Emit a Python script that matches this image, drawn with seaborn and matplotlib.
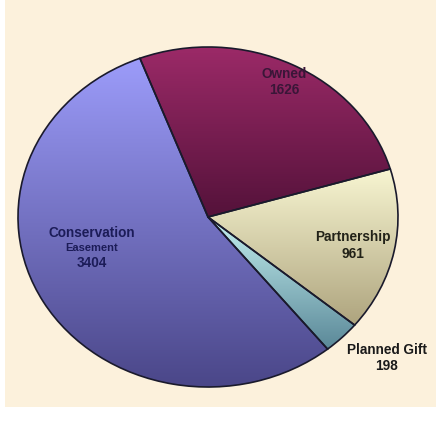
import matplotlib
matplotlib.use("Agg")
import matplotlib.pyplot as plt
import numpy as np
import seaborn as sns

# data
categories = ["Owned", "Partnership", "Planned Gift", "Conservation Easement"]
counts = [1626, 961, 198, 3404]
label_lines = [["Owned"], ["Partnership"], ["Planned Gift"], ["Conservation", "Easement"]]

# style
top_colors = ["#9c2a68", "#f8f6d2", "#c4f0f0", "#9c9cfa"]
bottom_colors = ["#54123a", "#aea47e", "#5a8898", "#4a4688"]
text_colors = ["#3a1638", "#222218", "#1a1a1a", "#1c1c58"]
# label anchor (x, y) in the unit ellipse of the pie axes
label_xy = [(0.40, 0.84), (0.765, -0.12), (0.94, -0.78), (-0.61, -0.18)]

sns.set_theme(style="white")
plt.rcParams["font.family"] = ["Liberation Sans", "DejaVu Sans"]

fig = plt.figure(figsize=(4.36, 4.21), dpi=100, facecolor="white")
bg = fig.add_axes([5 / 436, 14 / 421, 431 / 436, 407 / 421])
bg.set_facecolor("#fcf1dc")
bg.set_xticks([])
bg.set_yticks([])
for s in bg.spines.values():
    s.set_visible(False)

ax = fig.add_axes([18 / 436, 34 / 421, 380 / 436, 340 / 421])
wedges, _ = ax.pie(counts, startangle=111, counterclock=False, radius=1.0,
                   wedgeprops=dict(edgecolor="#1a1a2c", linewidth=1.2))
ax.set_aspect("auto")
ax.set_xlim(-1, 1)
ax.set_ylim(-1, 1)
ax.axis("off")

# vertical gradient fill clipped to each wedge
for w, c0, c1 in zip(wedges, top_colors, bottom_colors):
    verts = w.get_path().vertices
    ymin, ymax = verts[:, 1].min(), verts[:, 1].max()
    cmap = sns.blend_palette([c1, c0], as_cmap=True)
    grad = np.linspace(0, 1, 256).reshape(-1, 1)
    im = ax.imshow(grad, cmap=cmap, origin="lower", aspect="auto",
                   extent=(-1, 1, ymin, ymax), zorder=1)
    im.set_clip_path(w)
    w.set_facecolor("none")
    w.set_zorder(2)

for lines, n, (x, y), col in zip(label_lines, counts, label_xy, text_colors):
    if len(lines) == 2:
        ax.text(x, y + 0.088, lines[0], ha="center", va="center", fontsize=9.8,
                fontweight="bold", color=col, zorder=3)
        ax.text(x, y, lines[1], ha="center", va="center", fontsize=8,
                fontweight="bold", color=col, zorder=3)
        ax.text(x, y - 0.088, str(n), ha="center", va="center", fontsize=9.8,
                fontweight="bold", color=col, zorder=3)
    else:
        ax.text(x, y, lines[0], ha="center", va="center", fontsize=9.8,
                fontweight="bold", color=col, zorder=3)
        ax.text(x, y - 0.095, str(n), ha="center", va="center", fontsize=9.8,
                fontweight="bold", color=col, zorder=3)

fig.savefig("out.png", dpi=100, facecolor=fig.get_facecolor())
